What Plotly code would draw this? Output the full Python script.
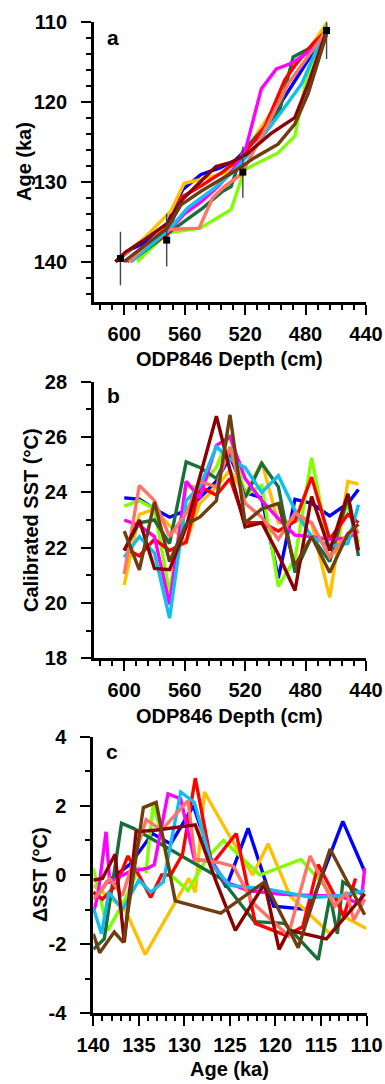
import plotly.graph_objects as go

# ---------------- colours ----------------
series_names = ["blue", "orange", "lime", "dkgreen", "red", "magenta", "cyan", "salmon", "dkred", "brown"]
series_colors = ["#0000FF", "#FFC000", "#80FF00", "#1A6E3A", "#FF0000", "#FF00FF", "#10BFF0", "#FF7468", "#8B0000", "#6E3E10"]

# ---------------- panel a: age models (depth cm, age ka) ----------------
a_blue_depth = [605.8, 595, 585, 571.4, 561.4, 549.2, 537, 527, 513.7, 498.2, 482.7, 466.1]
a_blue_age = [140, 138.4, 137.5, 135.2, 131.0, 129.1, 128.3, 127.4, 124.9, 120.7, 116.1, 111.1]
a_orange_depth = [606, 587, 569.2, 560.3, 549.2, 529.3, 519.3, 500.4, 490.5, 475, 466.1]
a_orange_age = [140, 137.1, 133.7, 130.2, 129.7, 128.7, 126.0, 120.7, 116.1, 112.7, 110.2]
a_lime_depth = [591.4, 571.4, 549.7, 529.3, 520.4, 498.2, 487.1, 479.4, 466.1]
a_lime_age = [140, 136.4, 135.8, 133.5, 128.5, 126.4, 124.3, 117.1, 110.4]
a_dkgreen_depth = [595.8, 571.4, 548.1, 534.8, 529.3, 521.5, 497.1, 488.2, 476, 466]
a_dkgreen_age = [140, 136.5, 133.3, 131.2, 130.6, 126.2, 121.1, 114.4, 113.2, 111.1]
a_red_depth = [598, 585, 571.4, 562.5, 549, 535, 522.6, 507.1, 493.8, 487.1, 475, 466]
a_red_age = [140, 138.0, 136.6, 132.0, 130.5, 128.8, 127.0, 123.2, 117.3, 115.5, 112.7, 111.1]
a_magenta_depth = [599.1, 585, 571.4, 560, 549, 538, 527, 519.3, 509.3, 499.3, 489.4, 475, 466]
a_magenta_age = [140, 137.8, 136.3, 134.0, 132.5, 130.6, 128.3, 125.7, 118.4, 115.9, 115.2, 113.4, 111.1]
a_cyan_depth = [595.8, 571.4, 558.1, 540.4, 527, 513.7, 493.8, 482.7, 466]
a_cyan_age = [140, 136.2, 133.3, 130.8, 128.6, 125.7, 120.7, 117.8, 110.6]
a_salmon_depth = [597, 574.7, 550.4, 541.5, 533.7, 522.6, 504.9, 491.6, 466]
a_salmon_age = [140, 136.0, 135.8, 132.0, 130.6, 129.1, 122.8, 117.8, 111.1]
a_dkred_depth = [605.8, 599.1, 587, 571.4, 561.4, 549.2, 539.3, 529.3, 519.3, 503, 487.1, 478.3, 466]
a_dkred_age = [140, 138.8, 137.3, 135.2, 132.2, 130.0, 128.1, 127.6, 126.6, 124.0, 122.0, 117.8, 111.1]
a_brown_depth = [600.2, 571.4, 562.5, 549.2, 527.1, 513.7, 498.2, 487.1, 478.3, 466]
a_brown_age = [140, 135.8, 132.9, 131.2, 128.7, 127.0, 125.3, 122.8, 119.0, 111.5]

tie_depth = [602.5, 571.9, 521.5, 466.1]
tie_age = [139.6, 137.3, 128.8, 111.1]
tie_err = [3.35, 3.3, 3.2, 3.55]

# ---------------- panel b: calibrated SST vs depth ----------------
sst_depth = [600, 590, 580, 570, 559, 550, 539, 530, 520, 509, 498, 487, 476, 464, 452, 445]
b_blue = [23.8, 23.75, 23.4, 23.1, 23.35, 23.8, 24.4, 25.3, 24.0, 23.8, 20.9, 23.75, 23.6, 23.15, 23.6, 24.1]
b_orange = [20.65, 23.2, 23.4, 22.8, 22.2, 23.6, 24.2, 24.8, 23.9, 25.1, 22.9, 23.0, 22.9, 20.2, 24.4, 24.3]
b_lime = [23.5, 23.7, 23.4, 20.35, 24.2, 24.2, 24.9, 26.1, 23.9, 24.25, 20.6, 21.6, 25.25, 21.9, 23.6, 22.2]
b_dkgreen = [21.9, 22.9, 23.0, 22.15, 25.1, 24.9, 24.5, 25.5, 23.8, 25.05, 24.2, 21.1, 22.4, 21.5, 23.85, 21.7]
b_red = [22.0, 21.7, 22.3, 21.9, 22.2, 24.2, 23.9, 24.5, 22.9, 22.9, 22.6, 22.95, 24.55, 22.3, 23.2, 22.9]
b_magenta = [23.0, 22.8, 22.4, 19.95, 24.4, 23.8, 25.7, 26.0, 24.5, 23.7, 23.05, 22.45, 22.4, 22.3, 22.35, 22.6]
b_cyan = [21.65, 22.4, 21.8, 19.45, 23.7, 24.2, 25.65, 25.2, 24.9, 24.0, 24.6, 23.35, 22.4, 22.05, 22.15, 23.55]
b_salmon = [21.05, 24.25, 23.7, 22.4, 23.25, 24.4, 24.2, 25.65, 23.6, 23.1, 22.3, 23.25, 22.9, 21.65, 22.5, 22.65]
b_dkred = [21.9, 23.0, 21.25, 21.2, 22.75, 24.6, 26.75, 24.8, 22.75, 22.9, 21.75, 20.45, 23.85, 21.9, 23.95, 21.9]
b_brown = [22.6, 21.2, 23.65, 21.5, 22.85, 23.1, 23.7, 26.8, 22.9, 23.4, 23.6, 21.35, 22.4, 21.1, 22.5, 22.85]

# ---------------- panel c: delta SST vs age ----------------
c_blue_age = [140, 139.5, 138.5, 136, 133.5, 131.5, 129, 127, 125.4, 123, 120.2, 116.3, 112.6, 110.2]
c_blue = [-0.5, -0.6, -0.2, 0.3, 1.2, 0.9, 2.0, 0.4, -0.35, 1.35, -0.9, -1.0, 1.55, 0.1]
c_orange_age = [140, 138.5, 136.5, 134.3, 129.5, 128.8, 127.8, 125.2, 122.5, 120.8, 118.4, 114, 112.5, 110]
c_orange = [-0.3, -0.6, -1.0, -2.3, -0.1, -0.5, 2.4, 1.2, 0.0, 0.9, -0.6, -1.7, -1.2, -1.55]
c_lime_age = [140, 138.4, 136.5, 135, 134.2, 133.4, 131.5, 129.6, 127.5, 125.7, 121.7, 117.2, 113.3, 110.2]
c_lime = [0.2, -1.6, -0.7, 0.2, 0.1, 2.1, 0.0, -0.45, 0.5, 1.0, 0.0, 0.45, -0.7, -0.45]
c_dkgreen_age = [140, 138.8, 136.9, 135.6, 126, 122.3, 119, 115.3, 114, 113.2, 112.6, 110.2]
c_dkgreen = [-2.15, -1.85, 1.5, 1.35, -0.1, -1.35, -1.4, -2.45, -0.6, -1.7, -0.2, -0.6]
c_red_age = [140, 139, 137.5, 136.2, 135, 133.7, 132.5, 131.5, 130.2, 128.8, 127, 124.3, 122.2, 118.8, 117, 115.3, 113.5, 112.5, 111.2]
c_red = [-0.5, -0.7, -0.3, 0.55, 0.0, -0.65, 0.0, 0.0, 0.6, 2.8, 0.3, 1.2, -1.4, -1.75, -1.5, 0.3, -0.6, -1.2, -0.1]
c_magenta_age = [140, 139.5, 138.6, 138.2, 136, 134, 133.3, 131.8, 130.4, 128.9, 127, 125.5, 123, 119.5, 115.8, 113, 110.6, 110.2]
c_magenta = [-1.1, -0.6, 1.25, -0.2, 0.1, 0.2, 0.3, 2.35, 2.2, 0.45, 0.4, -0.2, -0.45, -0.55, -0.6, -0.6, -0.85, 0.2]
c_cyan_age = [140, 139.1, 138.3, 136.8, 135, 133.7, 132.3, 130.4, 128.9, 127, 125, 121, 116, 113, 110.2]
c_cyan = [-0.95, -1.7, -0.5, -1.0, -0.15, -0.5, -0.2, 2.4, 2.1, 0.3, -0.3, -0.4, -0.65, -0.6, -0.45]
c_salmon_age = [140, 139, 138.2, 136.8, 135.5, 134.2, 132.5, 129.6, 128.8, 126, 124.6, 122.5, 118.6, 116.2, 113.5, 112.2, 111.4, 110.2]
c_salmon = [-0.7, -0.4, -0.1, -0.6, 0.5, 1.6, 1.3, 2.15, 0.45, 0.35, 0.25, -0.8, -1.75, 0.55, -0.9, -0.5, -1.3, -0.7]
c_dkred_age = [140, 139, 137.6, 136.6, 135.3, 133, 128.8, 126.5, 124.4, 121.2, 119.6, 118.5, 114.4, 110.2]
c_dkred = [-0.15, -0.1, 0.6, -1.95, 1.25, 1.3, 1.45, -0.2, -1.6, -0.25, -2.15, -1.6, -1.85, -0.55]
c_brown_age = [140, 139.3, 137.7, 136.7, 134.5, 133.1, 131, 126, 121.2, 117.5, 114, 110.2]
c_brown = [-1.7, -2.25, -1.65, -1.95, 1.95, 2.1, -0.75, -1.1, -0.2, -2.1, 0.75, -1.15]

# ---------------- axis labels ----------------
depth_ticks = [600, 560, 520, 480, 440]
age_a_ticks = [110, 120, 130, 140]
sst_ticks = [18, 20, 22, 24, 26, 28]
dsst_ticks = [-4, -2, 0, 2, 4]
dsst_ticktext = ["-4", "-2", "0", "2", "4"]
age_c_ticks = [140, 135, 130, 125, 120, 115, 110]

panel_a = [
    (a_blue_depth, a_blue_age), (a_orange_depth, a_orange_age), (a_lime_depth, a_lime_age),
    (a_dkgreen_depth, a_dkgreen_age), (a_red_depth, a_red_age), (a_magenta_depth, a_magenta_age),
    (a_cyan_depth, a_cyan_age), (a_salmon_depth, a_salmon_age), (a_dkred_depth, a_dkred_age),
    (a_brown_depth, a_brown_age),
]
panel_b = [b_blue, b_orange, b_lime, b_dkgreen, b_red, b_magenta, b_cyan, b_salmon, b_dkred, b_brown]
panel_c = [
    (c_blue_age, c_blue), (c_orange_age, c_orange), (c_lime_age, c_lime), (c_dkgreen_age, c_dkgreen),
    (c_red_age, c_red), (c_magenta_age, c_magenta), (c_cyan_age, c_cyan), (c_salmon_age, c_salmon),
    (c_dkred_age, c_dkred), (c_brown_age, c_brown),
]

FONT = "Liberation Sans, Arial, sans-serif"
LW = 3.4
W, H = 385, 1084

fig = go.Figure()
for (d, a), col, nm in zip(panel_a, series_colors, series_names):
    fig.add_trace(go.Scatter(x=d, y=a, mode="lines", line=dict(color=col, width=LW),
                             xaxis="x", yaxis="y", name=nm, showlegend=False))
fig.add_trace(go.Scatter(x=tie_depth, y=tie_age, mode="markers",
                         marker=dict(symbol="square", size=7, color="black"),
                         error_y=dict(type="data", array=tie_err, color="#444444", thickness=1.4, width=0),
                         cliponaxis=False, xaxis="x", yaxis="y", showlegend=False))
for vals, col, nm in zip(panel_b, series_colors, series_names):
    fig.add_trace(go.Scatter(x=sst_depth, y=vals, mode="lines", line=dict(color=col, width=LW),
                             xaxis="x2", yaxis="y2", name=nm, showlegend=False))
for (ag, v), col, nm in zip(panel_c, series_colors, series_names):
    fig.add_trace(go.Scatter(x=ag, y=v, mode="lines", line=dict(color=col, width=LW),
                             xaxis="x3", yaxis="y3", name=nm, showlegend=False))

tickfont = dict(family=FONT, size=20, color="black", weight="bold")
common = dict(showline=True, linecolor="black", linewidth=2.8, ticks="outside", ticklen=10,
              tickwidth=2.4, tickcolor="black", showgrid=False, zeroline=False, tickfont=tickfont,
              mirror=False, automargin=False)
XSO = 2   # x tick label standoff
YSO = 10  # y tick label standoff

xdom = [94 / W, 366 / W]

def ydom(top, bottom):
    return [1 - bottom / H, 1 - top / H]

fig.update_layout(
    template="none",
    width=W, height=H, margin=dict(l=0, r=0, t=0, b=0, pad=0, autoexpand=False),
    paper_bgcolor="white", plot_bgcolor="white", showlegend=False,
    xaxis=dict(domain=xdom, anchor="y", range=[620, 440], tickmode="array", tickvals=depth_ticks,
               minor=dict(dtick=8, tick0=600, ticklen=5, tickwidth=2, ticks="outside", tickcolor="black"),
               ticklabelstandoff=XSO, **common),
    yaxis=dict(domain=ydom(21.7, 301.7), anchor="x", range=[145, 110], tickmode="array", tickvals=age_a_ticks,
               minor=dict(dtick=2, tick0=110, ticklen=5, tickwidth=2, ticks="outside", tickcolor="black"),
               ticklabelstandoff=YSO, **common),
    xaxis2=dict(domain=xdom, anchor="y2", range=[620, 440], tickmode="array", tickvals=depth_ticks,
                minor=dict(dtick=8, tick0=600, ticklen=5, tickwidth=2, ticks="outside", tickcolor="black"),
                ticklabelstandoff=XSO, **common),
    yaxis2=dict(domain=ydom(381.7, 658.3), anchor="x2", range=[18, 28], tickmode="array", tickvals=sst_ticks,
                minor=dict(dtick=1, tick0=18, ticklen=5, tickwidth=2, ticks="outside", tickcolor="black"),
                ticklabelstandoff=YSO, **common),
    xaxis3=dict(domain=[93.3 / W, 366.5 / W], anchor="y3", range=[140, 110], tickmode="array", tickvals=age_c_ticks,
                minor=dict(dtick=1, tick0=110, ticklen=5, tickwidth=2, ticks="outside", tickcolor="black"),
                ticklabelstandoff=XSO, **common),
    yaxis3=dict(domain=ydom(736.7, 1013.3), anchor="x3", range=[-4, 4], tickmode="array", tickvals=dsst_ticks,
                ticktext=dsst_ticktext,
                minor=dict(dtick=1, tick0=-4, ticklen=5, tickwidth=2, ticks="outside", tickcolor="black"),
                ticklabelstandoff=YSO, **common),
)

def ann(text, px, py, size=20, angle=0):
    fig.add_annotation(text=text, x=px / W, y=1 - py / H, xref="paper", yref="paper",
                       xanchor="center", yanchor="middle", showarrow=False, textangle=angle,
                       font=dict(family=FONT, size=size, color="black", weight="bold"))

ann("Age (ka)", 24, 162, angle=-90)
ann("ODP846 Depth (cm)", 229, 359)
ann("Calibrated SST (°C)", 31, 520, angle=-90)
ann("ODP846 Depth (cm)", 229, 716)
ann("ΔSST (°C)", 40, 875, angle=-90)
ann("Age (ka)", 229, 1069)
ann("a", 113, 37, size=21)
ann("b", 113, 396, size=21)
ann("c", 112, 751, size=21)

fig.write_html("out.html")
